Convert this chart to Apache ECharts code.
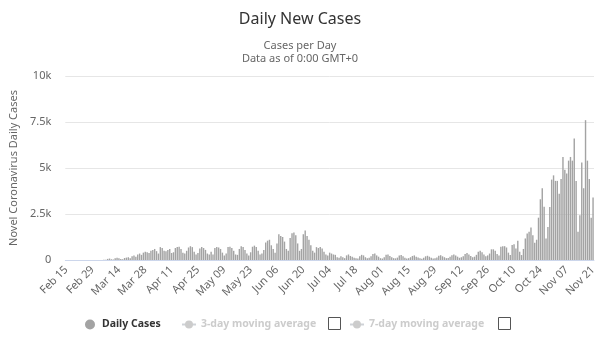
<!DOCTYPE html>
<html>
<head>
<meta charset="utf-8">
<script src="https://cdn.jsdelivr.net/npm/echarts@6/dist/echarts.min.js"></script>
<style>
  html, body { margin: 0; padding: 0; background: #fff; }
  #chart { width: 600px; height: 354px; }
</style>
</head>
<body>
<div id="chart"></div>
<script>
  // first day of the series, one bar per day
  const startDate = [2020, 1, 15]
  const monthNames = ['Jan', 'Feb', 'Mar', 'Apr', 'May', 'Jun', 'Jul', 'Aug', 'Sep', 'Oct', 'Nov', 'Dec']

  // daily new cases, one row per week (Sat..Fri)
  const dailyCases = [
    0, 0, 0, 0, 0, 0, 0,
    0, 0, 0, 0, 0, 0, 0,
    0, 0, 0, 0, 0, 0, 10,
    20, 60, 80, 40, 30, 100, 120,
    90, 60, 40, 110, 130, 150, 100,
    200, 250, 180, 300, 350, 280, 400,
    450, 420, 380, 500, 550, 600, 480,
    350, 700, 650, 500, 480, 550, 600,
    380, 420, 650, 700, 720, 600, 400,
    350, 500, 680, 750, 700, 450, 300,
    380, 620, 700, 650, 550, 350, 300,
    450, 300, 650, 700, 680, 600, 400,
    250, 350, 700, 720, 650, 500, 300,
    280, 600, 750, 700, 550, 350, 250,
    420, 720, 780, 700, 500, 300, 350,
    550, 950, 1050, 1100, 800, 600, 400,
    900, 1400, 1300, 1250, 1000, 600, 500,
    1200, 1450, 1500, 1350, 900, 500, 600,
    1400, 1600, 1300, 1100, 800, 500, 400,
    700, 650, 700, 620, 450, 300, 250,
    400, 350, 300, 280, 150, 120, 200,
    150, 100, 250, 300, 220, 180, 120,
    100, 80, 200, 280, 250, 150, 90,
    120, 200, 320, 350, 250, 180, 100,
    80, 150, 280, 300, 220, 150, 100,
    90, 130, 250, 270, 200, 120, 80,
    100, 150, 220, 250, 180, 130, 90,
    70, 120, 200, 230, 180, 120, 80,
    90, 140, 230, 260, 200, 150, 100,
    110, 170, 260, 300, 250, 180, 120,
    150, 200, 320, 380, 300, 220, 150,
    180, 280, 450, 500, 420, 300, 200,
    250, 350, 580, 580, 500, 320, 250,
    720, 750, 750, 680, 400, 270, 810,
    860, 630, 1040, 450, 270, 600, 1170,
    1440, 1530, 1760, 1350, 940, 1100, 2300,
    3300, 3900, 2900, 1170, 1800, 2880, 4370,
    4600, 4300, 4300, 3600, 4400, 5600, 4900,
    4700, 5400, 5600, 5400, 6600, 4300, 1530,
    2430, 5300, 3900, 7600, 5400, 4400, 2300,
    3400
  ]

  // hidden series (unchecked in the legend)
  const movingAvg3 = []
  const movingAvg7 = []

  const yTicks = [0, 2500, 5000, 7500, 10000]

  const categories = dailyCases.map((v, i) => {
    const d = new Date(startDate[0], startDate[1], startDate[2] + i)
    return monthNames[d.getMonth()] + ' ' + String(d.getDate()).padStart(2, '0')
  })

  const font = 'Noto Sans, DejaVu Sans, sans-serif'
  const legendText = { fontFamily: font, fontSize: 10.5, fontWeight: 'bold', color: '#333' }
  const chart = echarts.init(document.getElementById('chart'))

  // one legend per item so the checkboxes fit between them
  const makeLegend = (name, left, icon) => ({
    top: 314,
    left: left,
    itemWidth: 14,
    itemHeight: 10,
    itemGap: 5,
    inactiveColor: '#ccc',
    textStyle: legendText,
    data: [icon ? { name: name, icon: icon } : { name: name }]
  })

  chart.setOption({
    animation: false,
    title: [
      {
        text: 'Daily New Cases',
        left: 'center',
        top: 6,
        textStyle: { fontFamily: font, fontSize: 16, fontWeight: 'normal', color: '#333' }
      },
      {
        text: 'Cases per Day\nData as of 0:00 GMT+0',
        left: 'center',
        top: 34,
        textStyle: { fontFamily: font, fontSize: 11, fontWeight: 'normal', color: '#666', lineHeight: 13 }
      }
    ],
    legend: [
      makeLegend('Daily Cases', 80, 'circle'),
      makeLegend('3-day moving average', 176),
      makeLegend('7-day moving average', 344)
    ],
    grid: { left: 60, right: 6, top: 76, bottom: 94 },
    xAxis: {
      type: 'category',
      data: categories,
      axisLine: { lineStyle: { color: '#ccd6eb' } },
      axisTick: { show: false },
      axisLabel: {
        interval: 13,
        rotate: 45,
        margin: 8,
        fontFamily: font,
        fontSize: 11,
        color: '#666'
      }
    },
    yAxis: {
      type: 'value',
      min: yTicks[0],
      max: yTicks[yTicks.length - 1],
      interval: 2500,
      name: 'Novel Coronavirus Daily Cases',
      nameLocation: 'middle',
      nameGap: 44,
      nameTextStyle: { fontFamily: font, fontSize: 11, color: '#666' },
      splitLine: { lineStyle: { color: '#e6e6e6' } },
      axisLabel: {
        fontFamily: font,
        fontSize: 11,
        color: '#666',
        margin: 14,
        formatter: (v) => (v === 0 ? '0' : v / 1000 + 'k')
      }
    },
    series: [
      {
        name: 'Daily Cases',
        type: 'bar',
        data: dailyCases,
        barCategoryGap: '25%',
        itemStyle: { color: '#a3a3a3' }
      },
      {
        name: '3-day moving average',
        type: 'line',
        symbol: 'circle',
        data: movingAvg3,
        itemStyle: { color: '#999' }
      },
      {
        name: '7-day moving average',
        type: 'line',
        symbol: 'circle',
        data: movingAvg7,
        itemStyle: { color: '#999' }
      }
    ],
    // legend checkboxes
    graphic: [
      {
        type: 'rect',
        left: 328,
        top: 317,
        shape: { width: 12, height: 12 },
        style: { fill: '#fff', stroke: '#555', lineWidth: 1 }
      },
      {
        type: 'rect',
        left: 498,
        top: 317,
        shape: { width: 12, height: 12 },
        style: { fill: '#fff', stroke: '#555', lineWidth: 1 }
      }
    ]
  })

  // legends start with the hidden series unchecked
  chart.dispatchAction({ type: 'legendUnSelect', name: '3-day moving average' })
  chart.dispatchAction({ type: 'legendUnSelect', name: '7-day moving average' })
</script>
</body>
</html>
